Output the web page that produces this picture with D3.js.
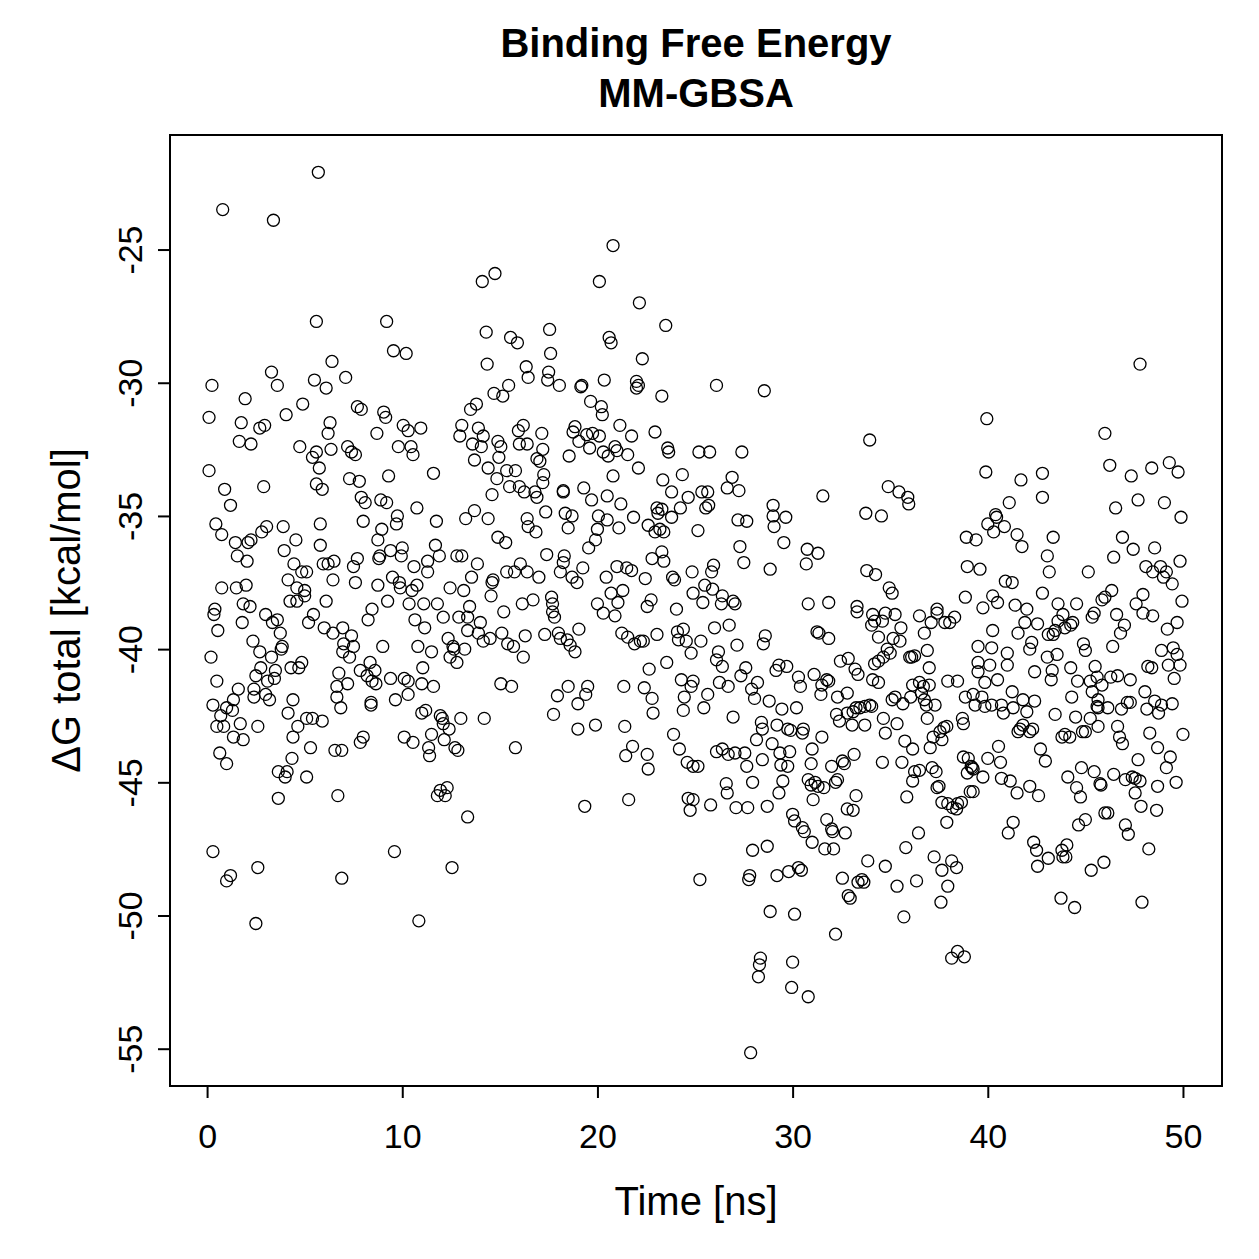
<!DOCTYPE html>
<html><head><meta charset="utf-8">
<script src="https://cdn.jsdelivr.net/npm/d3@7"></script>
<style>body{margin:0;background:#fff} text{font-family:"Liberation Sans",Arial,Helvetica,sans-serif;fill:#000}</style>
</head><body><svg id="c" width="1259" height="1259"></svg>
<script>
// [time (ns), ΔG total (kcal/mol)]
const pts_0_4 = [[5.7,-22.1],[0.8,-23.5],[3.4,-23.9],[5.6,-27.7],[6.4,-29.2],[3.3,-29.6],[3.6,-30.1],[5.5,-29.9],[6.1,-30.2],[7.1,-29.8],[0.25,-30.1],[1.95,-30.6],[4.9,-30.8],[0.1,-31.3],[1.75,-31.5],[4.05,-31.2],[2.7,-31.7],[2.95,-31.6],[6.3,-31.5],[6.2,-31.9],[7.7,-30.9],[7.9,-31.0],[1.65,-32.2],[2.25,-32.3],[4.75,-32.4],[5.6,-32.6],[5.4,-32.8],[6.35,-32.5],[7.2,-32.4],[7.4,-32.6],[7.6,-32.7],[0.1,-33.3],[5.75,-33.2],[0.9,-34.0],[1.2,-34.6],[2.9,-33.9],[5.6,-33.8],[5.9,-34.0],[7.3,-33.6],[7.8,-33.7],[7.9,-34.3],[8.1,-34.5],[8.0,-35.2],[0.45,-35.3],[0.75,-35.7],[2.8,-35.6],[3.05,-35.4],[3.9,-35.4],[5.8,-35.3],[1.45,-36.0],[2.25,-35.9],[2.1,-36.0],[1.55,-36.5],[2.05,-36.7],[3.95,-36.3],[4.55,-35.9],[5.8,-36.1],[4.45,-36.8],[4.85,-37.1],[5.1,-37.1],[5.95,-36.8],[6.2,-36.8],[6.5,-36.7],[7.7,-36.6],[7.5,-36.9],[7.6,-37.5],[0.75,-37.7],[1.5,-37.7],[2.0,-37.6],[4.15,-37.4],[4.6,-37.7],[5.0,-37.8],[5.0,-38.0],[4.25,-38.2],[4.6,-38.2],[6.45,-37.4],[6.1,-38.2],[1.85,-38.3],[2.2,-38.4],[0.4,-38.5]];
const pts_0_8 = [[0.35,-38.7],[0.55,-39.3],[1.8,-39.0],[3.0,-38.7],[3.35,-39.0],[3.6,-38.9],[3.75,-39.4],[5.45,-38.7],[5.2,-39.0],[6.0,-39.2],[6.45,-39.4],[6.95,-39.2],[7.4,-39.5],[7.5,-39.9],[7.0,-39.8],[7.3,-40.3],[6.95,-40.1],[2.35,-39.7],[2.7,-40.1],[3.3,-40.3],[3.85,-39.9],[3.8,-40.0],[0.2,-40.3],[0.5,-41.2],[2.75,-40.7],[2.5,-41.0],[3.5,-40.8],[3.45,-41.1],[3.1,-41.2],[4.3,-40.7],[4.85,-40.5],[4.7,-40.7],[6.75,-40.9],[6.65,-41.4],[7.2,-41.3],[6.65,-41.8],[6.85,-42.2],[1.6,-41.5],[1.35,-41.9],[2.4,-41.5],[2.4,-41.8],[3.0,-41.7],[3.2,-41.9],[0.3,-42.1],[0.7,-42.5],[1.0,-42.2],[1.3,-42.3],[0.5,-42.9],[0.85,-42.9],[1.7,-42.8],[2.6,-42.9],[4.4,-41.9],[4.15,-42.4],[4.65,-42.9],[5.1,-42.6],[5.4,-42.6],[5.9,-42.7],[4.4,-43.3],[5.3,-43.7],[1.35,-43.3],[1.85,-43.4],[0.65,-43.9],[1.0,-44.3],[4.35,-44.1],[3.65,-44.6],[4.1,-44.6],[4.0,-44.8],[5.1,-44.8],[6.55,-43.8],[6.9,-43.8],[7.85,-43.5],[8.0,-43.3],[3.65,-45.6],[6.7,-45.5],[0.3,-47.6],[1.2,-48.5],[1.0,-48.7],[2.6,-48.2],[6.9,-48.6],[2.5,-50.3]];
const pts_8_16a = [[14.75,-25.9],[14.1,-26.2],[9.2,-27.7],[9.55,-28.8],[10.2,-28.9],[14.3,-28.1],[15.55,-28.3],[15.9,-28.5],[14.35,-29.3],[16.35,-29.4],[16.45,-29.8],[14.7,-30.4],[15.15,-30.5],[15.45,-30.1],[13.8,-30.8],[13.5,-31.0],[9.05,-31.1],[9.15,-31.3],[10.05,-31.6],[10.3,-31.8],[10.95,-31.7],[8.7,-31.9],[9.8,-32.4],[10.45,-32.4],[10.55,-32.7],[13.05,-31.6],[12.95,-32.0],[13.9,-31.7],[14.15,-32.0],[13.6,-32.3],[14.05,-32.4],[14.9,-32.2],[15.05,-32.4],[15.95,-31.8],[16.2,-31.6],[16.0,-32.3],[16.4,-32.3],[13.7,-32.9],[14.95,-32.8],[11.6,-33.4],[9.3,-33.5],[14.4,-33.2],[14.85,-33.6],[15.35,-33.3],[15.8,-33.3],[15.5,-33.9],[16.0,-33.9],[16.25,-34.1],[14.6,-34.2],[8.9,-34.4],[9.2,-34.5],[10.75,-34.7],[9.75,-35.0],[9.7,-35.3],[11.75,-35.2],[8.95,-35.5],[8.75,-35.9],[13.7,-34.8],[13.25,-35.1],[14.4,-35.1],[14.9,-35.8],[15.3,-36.0],[16.4,-35.1],[16.45,-35.4],[9.4,-36.3],[10.0,-36.2],[9.95,-36.5],[8.85,-36.5],[8.8,-36.6],[11.7,-36.1],[11.9,-36.5],[11.3,-36.7],[11.3,-37.1],[10.6,-36.9],[12.8,-36.5],[13.05,-36.5],[13.85,-36.8],[16.05,-36.8],[16.4,-37.1],[15.75,-37.1],[15.35,-37.1],[9.5,-37.3],[9.85,-37.5],[9.9,-37.7],[10.5,-37.8],[10.75,-37.6],[8.75,-37.6],[12.45,-37.7],[13.15,-37.8],[13.55,-37.3],[14.65,-37.4],[14.6,-37.5],[14.55,-38.0],[9.25,-38.2],[8.45,-38.5],[10.35,-38.3],[11.1,-38.3],[11.8,-38.3],[13.45,-38.4],[16.15,-38.3]];
const pts_8_16b = [[8.25,-38.9],[10.65,-38.9],[11.15,-39.2],[12.1,-38.8],[12.9,-38.8],[13.35,-38.8],[14.0,-39.0],[13.35,-39.3],[13.9,-39.4],[14.5,-39.6],[14.15,-39.7],[15.2,-38.6],[15.1,-39.4],[15.4,-39.8],[15.7,-39.9],[16.2,-40.3],[16.3,-39.5],[9.0,-39.9],[10.8,-39.9],[11.5,-40.1],[12.35,-39.6],[12.6,-39.9],[12.65,-40.0],[12.45,-40.3],[12.8,-40.5],[13.2,-40.0],[8.35,-40.5],[7.85,-40.8],[8.2,-41.0],[8.6,-40.8],[8.65,-41.3],[8.45,-41.2],[9.4,-41.1],[10.1,-41.1],[10.3,-41.2],[10.3,-41.7],[9.65,-41.9],[11.05,-40.7],[11.0,-41.3],[11.6,-41.4],[15.05,-41.3],[15.6,-41.4],[8.4,-42.0],[8.4,-42.1],[11.0,-42.4],[11.2,-42.3],[11.95,-42.5],[12.05,-42.6],[12.1,-42.8],[12.4,-43.0],[13.0,-42.6],[14.2,-42.6],[10.1,-43.3],[10.55,-43.5],[11.5,-43.2],[11.35,-43.7],[11.4,-44.0],[12.15,-43.4],[12.7,-43.7],[12.85,-43.8],[15.8,-43.7],[11.95,-45.3],[12.3,-45.2],[12.2,-45.5],[11.8,-45.5],[13.35,-46.3],[9.6,-47.6],[12.55,-48.2],[10.85,-50.2]];
const pts_17_25a = [[20.8,-24.85],[20.1,-26.2],[22.15,-27.0],[23.5,-27.85],[17.55,-28.0],[20.6,-28.3],[20.7,-28.5],[17.6,-28.9],[22.3,-29.1],[17.5,-29.6],[17.45,-29.9],[18.05,-30.1],[19.2,-30.1],[19.15,-30.15],[20.35,-29.9],[22.0,-29.95],[22.1,-30.1],[22.0,-30.2],[23.3,-30.5],[19.65,-30.7],[20.2,-30.9],[20.25,-31.2],[21.15,-31.6],[21.75,-32.0],[22.95,-31.85],[17.15,-31.9],[18.85,-31.65],[18.75,-31.85],[19.45,-31.95],[19.75,-31.9],[20.1,-32.0],[17.2,-32.5],[16.9,-32.85],[17.05,-32.95],[19.05,-32.2],[19.6,-32.45],[20.3,-32.6],[20.55,-32.75],[20.9,-32.4],[21.0,-32.55],[21.55,-32.7],[18.55,-32.75],[23.6,-32.45],[23.65,-32.6],[22.1,-33.2],[20.8,-33.5],[17.25,-33.45],[17.2,-33.75],[16.9,-34.3],[16.8,-34.1],[18.25,-34.05],[18.25,-34.1],[19.3,-33.95],[19.7,-34.4],[20.5,-34.25],[21.2,-34.55],[23.35,-33.65],[24.35,-33.45],[23.8,-34.1],[24.65,-34.3],[24.25,-34.7],[23.8,-35.05],[23.05,-34.7],[23.1,-34.9],[23.3,-34.75],[17.35,-34.85],[16.85,-35.6],[18.35,-34.9],[18.7,-35.0],[18.5,-35.45],[20.05,-35.0],[20.5,-35.15],[21.1,-35.45],[21.85,-35.05],[20.0,-35.5],[22.6,-35.35],[22.95,-35.6],[23.4,-35.6],[23.2,-35.5],[19.9,-35.9],[19.55,-36.2],[17.4,-36.45],[18.3,-36.5],[18.25,-36.75],[18.1,-37.1],[19.25,-36.95],[22.8,-36.6],[23.3,-36.35],[23.4,-36.7],[17.0,-37.3],[18.7,-37.3],[18.95,-37.5],[20.45,-37.3],[21.0,-36.9],[21.5,-36.95],[21.75,-37.05],[22.45,-37.35],[23.85,-37.3],[23.95,-37.4],[24.85,-37.1],[16.7,-38.15],[17.65,-38.05],[17.7,-38.3],[20.7,-37.9],[21.3,-37.8],[21.05,-38.25],[20.0,-38.3],[22.75,-38.15],[22.55,-38.4],[24.9,-37.9],[24.05,-38.5]];
const pts_17_25b = [[20.3,-38.65],[20.9,-38.75],[17.7,-38.6],[17.8,-38.8],[17.3,-39.45],[18.0,-39.4],[18.1,-39.6],[18.45,-39.65],[18.6,-39.85],[18.85,-40.1],[19.05,-39.25],[21.25,-39.4],[21.55,-39.55],[21.9,-39.8],[22.2,-39.7],[22.35,-39.7],[23.05,-39.45],[22.65,-40.75],[23.55,-40.5],[24.1,-39.35],[24.4,-39.25],[24.15,-39.65],[24.55,-39.7],[24.8,-40.15],[18.5,-41.4],[17.95,-41.75],[19.5,-41.4],[19.4,-41.7],[19.0,-42.05],[17.75,-42.45],[21.35,-41.4],[22.4,-41.45],[22.8,-41.85],[22.85,-42.4],[24.3,-41.15],[24.45,-41.8],[24.4,-42.3],[24.9,-41.2],[24.8,-41.4],[19.0,-43.0],[19.9,-42.85],[21.4,-42.9],[21.8,-43.65],[21.45,-44.0],[22.55,-43.95],[22.6,-44.5],[23.9,-43.2],[24.2,-43.75],[24.6,-44.25],[24.9,-44.4],[19.35,-45.9],[21.6,-45.65],[24.65,-45.6],[24.9,-45.65],[24.75,-46.05]];
const pts_25_33a = [[26.1,-30.1],[28.55,-30.3],[25.2,-32.6],[25.75,-32.6],[27.4,-32.6],[26.9,-33.55],[26.65,-33.95],[27.25,-34.05],[25.35,-34.1],[25.65,-34.1],[25.55,-34.7],[25.7,-34.6],[31.55,-34.25],[29.0,-34.6],[29.0,-35.0],[29.65,-35.05],[29.05,-35.4],[27.2,-35.15],[27.65,-35.2],[25.15,-35.55],[29.55,-36.0],[30.75,-36.25],[31.3,-36.4],[30.7,-36.8],[27.3,-36.15],[27.5,-36.75],[28.85,-37.0],[25.95,-36.85],[25.85,-37.1],[25.5,-37.6],[25.9,-37.75],[26.4,-38.0],[26.95,-38.2],[27.05,-38.3],[25.4,-38.25],[26.35,-38.3],[30.8,-38.3],[31.85,-38.25],[33.3,-38.4]];
const pts_25_33b = [[25.3,-39.7],[26.0,-39.2],[26.75,-39.1],[26.2,-40.1],[26.1,-40.4],[26.4,-40.65],[27.15,-39.85],[28.6,-39.5],[28.5,-39.8],[31.25,-39.35],[31.35,-39.4],[31.85,-39.6],[25.65,-41.7],[25.45,-42.2],[26.7,-41.4],[26.25,-41.25],[27.35,-41.0],[27.6,-40.7],[28.2,-41.25],[27.9,-41.5],[28.05,-41.85],[28.8,-41.95],[29.15,-40.8],[29.3,-40.6],[29.7,-40.65],[30.3,-41.05],[30.4,-41.4],[29.45,-42.25],[30.2,-42.2],[26.95,-42.55],[31.1,-40.95],[31.5,-41.35],[31.75,-41.15],[31.85,-41.2],[31.45,-41.7],[32.45,-40.45],[32.85,-40.35],[33.2,-40.75],[33.35,-40.95],[32.3,-41.8],[32.8,-41.65],[32.25,-42.45],[32.4,-42.7],[32.8,-42.4],[33.1,-42.35],[33.25,-42.2],[33.05,-42.85],[28.4,-42.75],[28.45,-43.0],[28.15,-43.4],[28.95,-43.55],[29.2,-42.85],[29.75,-43.0],[29.9,-43.05],[30.5,-43.15],[30.55,-43.0],[31.5,-43.3],[31.0,-43.75],[30.95,-44.3],[32.0,-44.4],[32.55,-44.2],[32.65,-44.3],[33.15,-43.95],[32.3,-44.9],[32.2,-45.0],[26.1,-43.85],[26.4,-43.75],[26.7,-43.95],[27.05,-43.9],[27.55,-43.9],[27.65,-44.4],[28.45,-44.15],[25.15,-44.4],[29.35,-43.9],[29.85,-43.85],[29.4,-44.35],[29.75,-44.4],[30.8,-44.9],[31.15,-45.0],[31.3,-45.15],[31.6,-45.2],[31.05,-45.65],[30.95,-45.1],[26.6,-45.05],[26.65,-45.4],[27.95,-45.0],[29.5,-44.95],[29.3,-45.4],[25.8,-45.85],[27.1,-45.95],[27.7,-45.95],[28.7,-45.9],[30.0,-46.2],[30.1,-46.45],[30.5,-46.7],[30.6,-46.85],[31.0,-47.25],[31.75,-46.4],[32.0,-46.75],[32.05,-46.85],[32.7,-46.9],[31.65,-47.5],[32.1,-47.5],[32.8,-46.0],[33.1,-46.05],[33.25,-45.5],[27.95,-47.55],[28.7,-47.4],[25.25,-48.65],[27.8,-48.5],[27.75,-48.65],[29.2,-48.5],[29.8,-48.35],[30.3,-48.2],[30.45,-48.3],[32.55,-48.6],[32.85,-49.25],[32.95,-49.35],[33.35,-48.75],[28.85,-49.85],[30.1,-49.95],[32.2,-50.7],[28.35,-51.6],[28.3,-51.85],[28.25,-52.3],[30.0,-51.75],[29.95,-52.7],[30.8,-53.05],[27.85,-55.15]];
const pts_33_42a = [[39.95,-31.35],[33.95,-32.15],[39.9,-33.35],[41.7,-33.65],[41.1,-34.5],[34.9,-33.9],[35.45,-34.1],[35.9,-34.3],[35.95,-34.55],[33.75,-34.9],[34.55,-35.0],[40.4,-34.95],[40.45,-35.05],[40.0,-35.3],[40.3,-35.6],[40.85,-35.4],[41.5,-35.7],[41.75,-36.15],[38.9,-35.8],[39.4,-35.9],[33.8,-37.05],[34.25,-37.2],[34.95,-37.7],[35.1,-37.9],[38.95,-36.9],[39.6,-37.0],[40.9,-37.45],[41.25,-37.5],[38.85,-38.05],[40.25,-38.0],[40.5,-38.25],[39.75,-38.45],[41.4,-38.35],[37.4,-38.5]];
const pts_33_42b = [[33.3,-38.6],[34.1,-38.7],[34.75,-38.65],[35.25,-38.7],[34.05,-39.1],[34.2,-38.95],[34.6,-38.95],[35.55,-39.2],[34.4,-39.55],[35.15,-39.6],[35.5,-39.7],[34.85,-40.0],[35.0,-40.15],[34.65,-40.3],[36.5,-38.75],[37.1,-39.0],[37.4,-38.65],[37.8,-39.0],[38.05,-39.0],[38.3,-38.8],[36.75,-39.4],[36.9,-40.05],[36.1,-40.3],[36.0,-40.3],[36.25,-40.25],[37.0,-40.7],[34.1,-41.15],[34.4,-41.25],[34.4,-40.45],[34.2,-40.55],[33.45,-42.2],[33.7,-42.15],[33.95,-42.1],[34.05,-42.15],[33.7,-42.85],[34.65,-42.6],[35.35,-42.8],[34.75,-43.15],[35.1,-41.9],[35.25,-41.8],[35.65,-42.05],[36.05,-41.8],[36.15,-41.35],[36.5,-41.25],[36.7,-41.4],[37.0,-41.35],[36.6,-41.65],[36.75,-41.9],[36.85,-42.1],[37.3,-42.1],[36.9,-42.6],[37.95,-41.2],[38.45,-41.2],[35.75,-43.45],[36.15,-43.75],[37.05,-43.7],[37.2,-43.3],[37.65,-43.4],[37.75,-42.95],[37.9,-42.9],[37.55,-43.1],[38.7,-42.6],[38.75,-42.8],[38.85,-41.8],[39.25,-41.7],[39.35,-42.1],[39.7,-41.8],[39.85,-42.15],[40.2,-42.1],[40.7,-42.1],[40.8,-42.4],[41.3,-42.2],[41.8,-41.9],[39.5,-39.9],[40.2,-39.95],[41.0,-40.15],[41.0,-40.6],[39.5,-40.5],[39.5,-40.85],[40.1,-40.6],[40.5,-41.15],[39.85,-41.25],[41.25,-41.6],[40.25,-39.3],[41.55,-39.4],[41.65,-43.0],[41.55,-43.1],[41.8,-42.85],[38.75,-44.05],[39.0,-44.1],[39.15,-44.4],[39.25,-44.5],[38.95,-44.65],[39.2,-44.45],[39.75,-44.8],[40.0,-44.1],[40.55,-43.65],[40.65,-44.25],[40.7,-44.85],[41.15,-44.95],[41.5,-45.4],[39.1,-45.35],[39.25,-45.35],[34.6,-44.25],[35.6,-44.25],[36.25,-44.6],[36.5,-44.55],[36.15,-44.95],[37.15,-44.45],[37.35,-44.6],[37.4,-45.2],[37.5,-45.15],[35.85,-45.55],[37.65,-45.75],[37.95,-45.8],[38.2,-45.95],[38.45,-45.8],[38.65,-45.75],[38.4,-46.0],[37.9,-46.5],[41.3,-46.5],[41.05,-46.9],[36.45,-46.9],[35.8,-47.45],[37.25,-47.8],[37.65,-48.3],[38.15,-47.95],[38.4,-48.2],[37.95,-48.9],[37.6,-49.5],[33.85,-47.95],[34.75,-48.15],[33.55,-48.65],[33.65,-48.75],[35.35,-48.9],[36.35,-48.7],[35.7,-50.05],[38.15,-51.6],[38.45,-51.35],[38.8,-51.55]];
const pts_42_50a = [[47.8,-29.3],[46.0,-31.9],[46.25,-33.1],[42.8,-33.4],[42.8,-34.3],[47.35,-33.5],[48.4,-33.2],[49.3,-33.0],[49.75,-33.35],[46.55,-34.7],[47.7,-34.4],[49.05,-34.5],[49.9,-35.05],[43.35,-35.8],[43.05,-36.5],[43.15,-37.1],[45.15,-37.1],[46.9,-35.8],[47.45,-36.25],[46.45,-36.55],[48.55,-36.2],[48.1,-36.9],[48.45,-37.1],[48.85,-36.9],[49.15,-37.1],[49.0,-37.3],[49.45,-37.55],[49.85,-36.7],[42.8,-37.9],[46.35,-37.8],[46.0,-38.05],[45.85,-38.15],[47.95,-37.95],[47.6,-38.3],[49.95,-38.2],[42.0,-38.5],[43.6,-38.3],[44.55,-38.3]];
const pts_42_50b = [[41.9,-39.0],[42.55,-39.05],[43.85,-38.7],[43.6,-38.95],[44.35,-39.0],[44.25,-39.1],[43.1,-39.45],[43.35,-39.45],[43.45,-39.3],[43.95,-39.2],[42.25,-39.75],[42.15,-40.0],[45.35,-38.8],[45.45,-38.65],[46.6,-38.7],[47.0,-39.1],[46.8,-39.4],[47.95,-38.65],[48.45,-38.75],[49.2,-39.25],[49.7,-39.0],[44.9,-39.8],[45.0,-40.05],[46.4,-39.9],[48.9,-40.05],[49.5,-39.95],[49.7,-40.2],[49.85,-40.6],[49.25,-40.6],[49.55,-41.1],[43.05,-40.3],[43.55,-40.2],[43.3,-40.8],[43.25,-41.15],[42.4,-40.85],[44.25,-40.7],[44.6,-41.2],[45.25,-41.2],[45.5,-40.65],[45.6,-41.05],[45.85,-41.35],[46.3,-41.05],[46.65,-41.0],[47.3,-41.15],[48.2,-40.65],[48.4,-40.7],[48.05,-41.6],[42.4,-41.95],[42.0,-42.35],[44.3,-41.8],[45.35,-41.6],[45.65,-41.9],[45.6,-42.15],[46.15,-42.2],[45.65,-42.2],[46.85,-42.25],[47.15,-42.0],[47.3,-42.0],[48.15,-42.25],[48.55,-41.95],[48.9,-42.1],[49.45,-42.05],[48.75,-42.4],[43.45,-42.45],[44.5,-42.55],[45.25,-42.6],[45.0,-43.1],[45.65,-42.9],[43.95,-43.2],[44.2,-43.3],[43.8,-43.3],[44.85,-43.1],[42.15,-43.1],[42.3,-43.0],[46.65,-42.9],[46.75,-43.3],[46.9,-43.55],[48.3,-43.15],[48.7,-43.7],[49.35,-44.05],[49.15,-44.45],[50.0,-43.2],[42.7,-43.75],[42.95,-44.2],[47.7,-44.15],[44.8,-44.45],[45.45,-44.6],[44.1,-44.8],[44.55,-45.2],[44.75,-45.55],[45.75,-45.05],[45.8,-45.1],[46.45,-44.7],[47.05,-44.9],[47.4,-44.8],[47.55,-44.85],[47.8,-44.95],[47.55,-45.4],[48.7,-45.15],[49.65,-45.0],[47.85,-45.9],[48.65,-46.05],[42.15,-45.15],[42.6,-45.5],[46.0,-46.15],[46.15,-46.15],[44.65,-46.6],[45.0,-46.4],[47.05,-46.6],[47.2,-46.95],[42.35,-47.25],[42.5,-47.55],[43.1,-47.85],[42.55,-48.15],[44.05,-47.35],[43.8,-47.55],[43.85,-47.8],[44.0,-47.8],[48.25,-47.5],[45.3,-48.3],[45.95,-48.0],[43.75,-49.35],[44.45,-49.7],[47.9,-49.5]];

const xTicks = [0, 10, 20, 30, 40, 50];
const yTicks = [-25, -30, -35, -40, -45, -50, -55];
const titleLines = ["Binding Free Energy", "MM-GBSA"];
const xLabel = "Time [ns]";
const yLabel = "ΔG total [kcal/mol]";

const points = [].concat(pts_0_4, pts_0_8, pts_8_16a, pts_8_16b, pts_17_25a, pts_17_25b,
  pts_25_33a, pts_25_33b, pts_33_42a, pts_33_42b, pts_42_50a, pts_42_50b);

const L = 170, R = 1222, T = 135, B = 1086;
const svg = d3.select("#c");
const x = d3.scaleLinear().domain([-1.9, 52]).range([L, R]);
const y = d3.scaleLinear().domain([-20.7, -56.4]).range([T, B]);

svg.append("rect").attr("width", 1259).attr("height", 1259).attr("fill", "#fff");

svg.append("g").selectAll("circle").data(points).join("circle")
  .attr("cx", d => x(d[0])).attr("cy", d => y(d[1])).attr("r", 6)
  .attr("fill", "none").attr("stroke", "#000").attr("stroke-width", 1.3);

svg.append("rect").attr("x", L).attr("y", T).attr("width", R - L).attr("height", B - T)
  .attr("fill", "none").attr("stroke", "#000").attr("stroke-width", 2);

const gx = svg.append("g").attr("transform", `translate(0,${B})`)
  .call(d3.axisBottom(x).tickValues(xTicks).tickSize(12).tickFormat(d => String(d)));
gx.select(".domain").remove();
gx.selectAll("line").attr("stroke-width", 2);
gx.selectAll("text").attr("y", 62).attr("dy", null).attr("font-size", 34).attr("fill", "#000");

const gy = svg.append("g").attr("transform", `translate(${L},0)`)
  .call(d3.axisLeft(y).tickValues(yTicks).tickSize(12).tickFormat(d => String(d)));
gy.select(".domain").remove();
gy.selectAll("line").attr("stroke-width", 2);
gy.selectAll("text").attr("x", null).attr("dy", null).attr("text-anchor", "middle")
  .attr("transform", "translate(-28,0) rotate(-90)").attr("font-size", 34).attr("fill", "#000");

svg.selectAll(".title").data(titleLines).join("text").attr("class", "title")
  .attr("x", (L + R) / 2).attr("y", (d, i) => 57 + i * 50)
  .attr("text-anchor", "middle").attr("font-weight", "bold").attr("font-size", 40).text(d => d);

svg.append("text").attr("x", (L + R) / 2).attr("y", 1215).attr("text-anchor", "middle")
  .attr("font-size", 40).text(xLabel);

svg.append("text").attr("transform", `translate(80,${(T + B) / 2}) rotate(-90)`)
  .attr("text-anchor", "middle").attr("font-size", 40).text(yLabel);
</script></body></html>
